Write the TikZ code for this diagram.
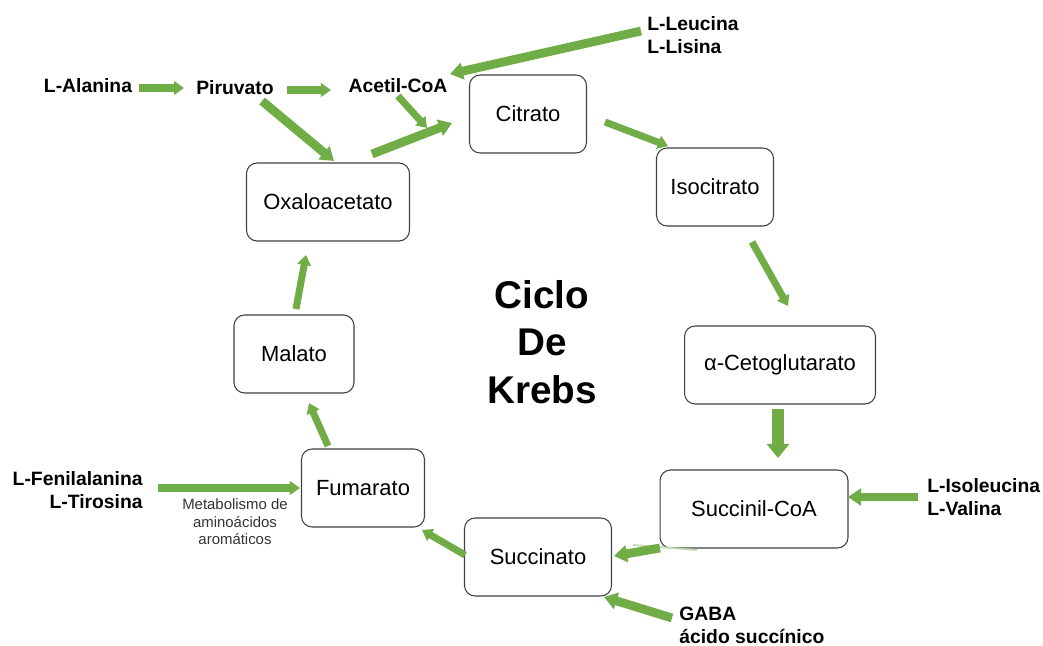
\documentclass[tikz,border=0pt]{standalone}
\usepackage{fontspec}
\setmainfont{Liberation Sans}
\usetikzlibrary{calc}
\usetikzlibrary{arrows.meta}
\usetikzlibrary{positioning}

\definecolor{leafgreen}{RGB}{112,173,71}

\tikzset{
  stage/.style={draw=black!75, line width=0.6pt, rounded corners=6pt, fill=white,
    minimum height=1.56cm, font=\fontsize{12.5}{15}\selectfont},
  feed/.style={font=\bfseries\fontsize{11}{13.2}\selectfont, inner sep=0pt},
  flow/.style={leafgreen, line width=4pt, -{Triangle[length=5.7pt,width=7.6pt]}},
  wideflow/.style={leafgreen, line width=5pt, -{Triangle[length=7.4pt,width=9.5pt]}},
  bigflow/.style={leafgreen, line width=6.8pt, -{Triangle[length=8pt,width=12.5pt]}},
}

\begin{document}
\begin{tikzpicture}[x=0.02cm, y=-0.02cm]
    \useasboundingbox (0,0) rectangle (1043,645);

    % the cycle
    \node[stage, minimum width=2.34cm] (cit) at (528,114) {Citrato};
    \node[stage, minimum width=2.34cm] (iso) at (715,187) {Isocitrato};
    \node[stage, minimum width=3.82cm] (akg) at (780,365) {α-Cetoglutarato};
    \node[stage, minimum width=3.76cm] (suc) at (754,509) {Succinil-CoA};
    \node[stage, minimum width=2.94cm] (sca) at (538,557) {Succinato};
    \node[stage, minimum width=2.46cm] (fum) at (363,488) {Fumarato};
    \node[stage, minimum width=2.40cm] (mal) at (294,354) {Malato};
    \node[stage, minimum width=3.26cm] (oxa) at (328,202) {Oxaloacetato};

    \node[font=\bfseries\fontsize{22}{27}\selectfont, align=center] (title) at (542,342) {Ciclo\\De\\Krebs};

    % feeding substrates
    \node[feed] (ala) at (88,86) {L-Alanina};
    \node[feed] (pir) at (235,88) {Piruvato};
    \node[feed] (acc) at (398,86) {Acetil-CoA};
    \node[feed, anchor=west, align=left] (leu) at (647,35) {L-Leucina\\L-Lisina};
    \node[feed, anchor=west, align=left] (ile) at (927,497) {L-Isoleucina\\L-Valina};
    \node[feed, anchor=west, align=left] (gaba) at (679,625) {GABA\\ácido succínico};
    \node[feed, anchor=east, align=right] (phe) at (143,490) {L-Fenilalanina\\L-Tirosina};
    \node[font=\fontsize{8.5}{10}\selectfont, text=black!80, align=center] (aro) at (235,522)
        {Metabolismo de\\aminoácidos\\aromáticos};

    \draw[flow] ($(ala)+(51,2)$) -- ($(pir)+(-51,0)$);
    \draw[flow] ($(pir)+(52,2)$) -- ($(acc)+(-67,4)$);
    \draw[wideflow] ($(pir)+(27,13)$) -- ($(oxa)+(6,-41)$);
    \draw[flow] ($(acc)+(0,10)$) -- ($(cit)+(-101,14)$);
    \draw[wideflow] ($(oxa)+(44,-48)$) -- ($(cit)+(-76,9)$);
    \draw[wideflow] ($(leu.west)+(-6,-4)$) -- ($(acc)+(52,-12)$);

    \draw[flow] ($(cit)+(77,8)$) -- ($(iso)+(-47,-41)$);
    \draw[flow] ($(iso)+(37,55)$) -- ($(akg)+(8,-59)$);
    \draw[bigflow] ($(akg)+(-2,44)$) -- ($(suc)+(24,-51)$);
    \draw[wideflow] ($(ile.west)+(-9,0)$) -- ($(suc)+(94,-12)$);
    \draw[leafgreen!45, line width=1pt] ($(suc)+(-57,41)$) -- ($(sca)+(95,-12)$);
    \draw[wideflow] ($(suc)+(-94,39)$) -- ($(sca)+(76,-1)$);
    \draw[wideflow] ($(gaba.west)+(-7,-7)$) -- ($(sca)+(66,40)$);
    \draw[flow] ($(sca)+(-73,-2)$) -- ($(fum)+(59,42)$);
    \draw[flow] ($(phe.east)+(15,-2)$) -- ($(fum)+(-63,0)$);
    \draw[flow] ($(fum)+(-35,-42)$) -- ($(mal)+(15,49)$);
    \draw[flow] ($(mal)+(2,-45)$) -- ($(oxa)+(-22,53)$);
\end{tikzpicture}
\end{document}
